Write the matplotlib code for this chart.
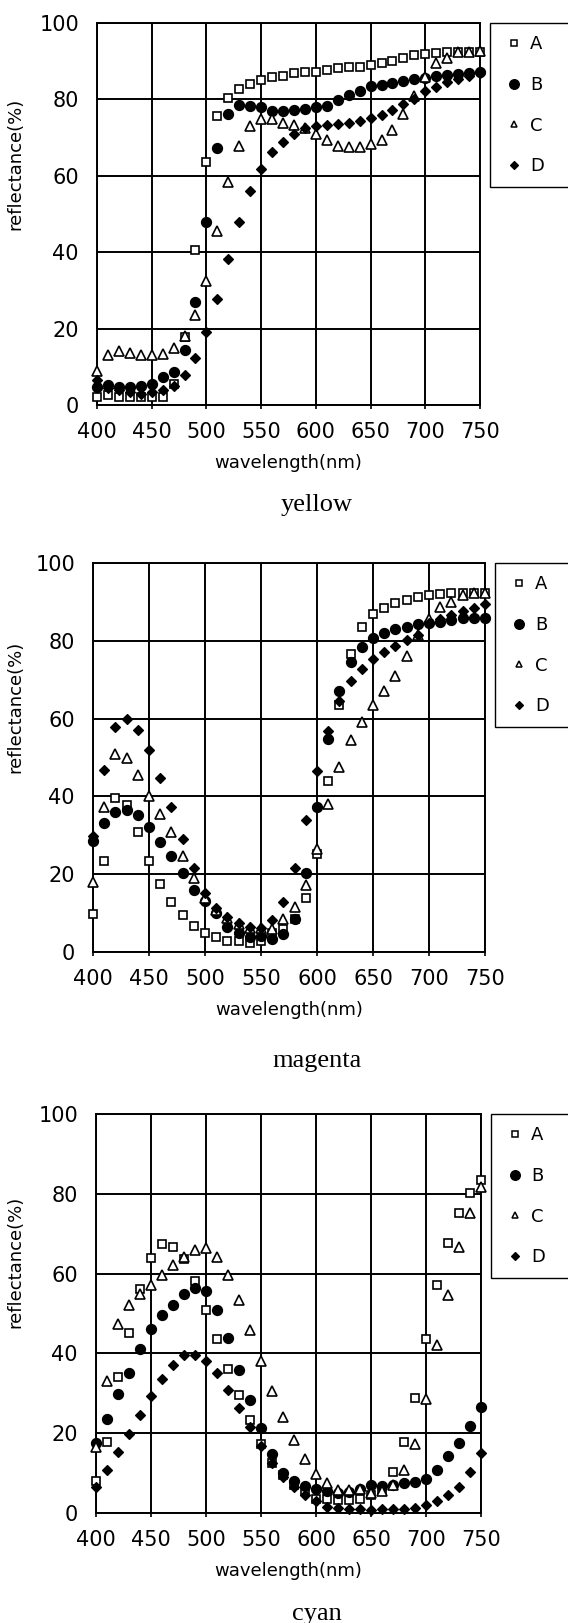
"""
Reflectance spectra of yellow, magenta and cyan samples A-D.
"""
import matplotlib.pyplot as plt
from matplotlib.lines import Line2D

W, H = 568, 1623
DPI = 100

wavelength = list(range(400, 751, 10))
sample_names = ['A', 'B', 'C', 'D']

yellow_A = [2.2, 2.6, 2.2, 2.0, 2.0, 2.0, 2.2, 5.4, 17.9, 40.7, 63.6, 75.6,
            80.3, 82.6, 84.0, 85.0, 85.8, 86.2, 86.8, 87.3, 87.3, 87.7, 88.1, 88.4,
            88.6, 89.1, 89.5, 90.1, 90.9, 91.5, 92.0, 92.2, 92.4, 92.4, 92.4, 92.4]
yellow_B = [4.6, 5.2, 4.6, 4.6, 5.0, 5.5, 7.2, 8.7, 14.5, 27.0, 47.9, 67.3,
            76.1, 78.5, 78.4, 78.0, 77.0, 77.0, 77.2, 77.6, 77.9, 78.4, 79.8, 81.1,
            82.2, 83.4, 83.9, 84.3, 84.7, 85.3, 85.6, 86.1, 86.3, 86.7, 86.8, 87.2]
yellow_C = [8.8, 13.2, 14.2, 13.6, 13.2, 13.0, 13.4, 14.8, 18.0, 23.5, 32.5, 45.6,
            58.4, 67.8, 73.1, 75.0, 75.0, 73.9, 73.2, 72.4, 70.9, 69.5, 67.8, 67.6,
            67.6, 68.3, 69.5, 71.9, 76.3, 81.0, 85.9, 89.4, 90.9, 92.4, 92.4, 92.7]
yellow_D = [6.5, 4.5, 3.9, 3.5, 3.0, 3.5, 3.9, 5.0, 7.9, 12.2, 19.0, 27.7,
            38.1, 47.9, 56.0, 61.9, 66.1, 68.9, 70.9, 72.4, 73.1, 73.2, 73.5, 73.8,
            74.4, 75.2, 76.0, 77.3, 78.9, 80.2, 82.2, 83.3, 84.6, 85.3, 86.0, 86.9]

magenta_A = [9.7, 23.4, 39.6, 37.9, 30.8, 23.4, 17.4, 12.9, 9.4, 6.6, 5.0, 3.8,
             2.9, 2.9, 2.3, 2.7, 5.0, 6.0, 8.5, 14.0, 25.2, 43.9, 63.4, 76.7,
             83.6, 86.8, 88.5, 89.6, 90.5, 91.3, 91.7, 92.0, 92.2, 92.2, 92.4, 92.4]
magenta_B = [28.6, 33.2, 35.9, 36.4, 35.1, 32.2, 28.2, 24.7, 20.2, 15.9, 13.0, 10.0,
             6.5, 4.8, 3.8, 4.0, 3.3, 4.6, 8.5, 20.3, 37.4, 54.7, 67.2, 74.6,
             78.4, 80.8, 82.0, 83.1, 83.6, 84.2, 84.5, 84.9, 85.3, 85.8, 85.8, 85.8]
magenta_C = [18.1, 37.4, 50.9, 50.0, 45.6, 40.2, 35.5, 30.8, 24.7, 19.0, 14.0, 10.8,
             8.8, 7.1, 6.2, 6.2, 5.8, 8.5, 11.5, 17.3, 26.5, 38.1, 47.6, 54.5,
             59.2, 63.4, 67.2, 70.9, 76.0, 81.6, 85.5, 88.8, 90.1, 91.8, 92.2, 92.2]
magenta_D = [29.7, 46.9, 57.9, 59.8, 57.1, 51.9, 44.7, 37.4, 29.1, 21.7, 15.2, 11.2,
             9.0, 7.5, 6.4, 6.2, 8.2, 12.9, 21.7, 34.0, 46.6, 56.9, 64.4, 69.6,
             72.8, 75.2, 77.1, 78.6, 80.2, 81.6, 84.5, 85.5, 86.7, 87.7, 88.5, 89.5]

cyan_A = [7.9, 17.9, 34.2, 45.2, 56.2, 63.8, 67.3, 66.7, 63.6, 58.2, 51.0, 43.5,
          36.0, 29.5, 23.3, 17.2, 12.5, 9.5, 7.0, 5.5, 3.6, 3.4, 3.2, 3.2,
          3.4, 4.4, 5.5, 10.2, 17.9, 28.9, 43.5, 57.2, 67.7, 75.3, 80.1, 83.4]
cyan_B = [17.5, 23.6, 29.9, 35.1, 41.2, 46.2, 49.5, 52.2, 55.0, 56.5, 55.6, 51.0,
          43.9, 35.9, 28.4, 21.3, 14.7, 10.0, 7.9, 6.7, 5.9, 5.5, 5.0, 5.2,
          5.9, 6.9, 6.7, 7.1, 7.5, 7.7, 8.5, 10.7, 14.3, 17.6, 21.7, 26.5]
cyan_C = [16.5, 33.2, 47.4, 52.2, 55.0, 57.1, 59.7, 62.1, 64.2, 65.9, 66.3, 64.2,
          59.6, 53.5, 45.8, 38.2, 30.5, 24.0, 18.2, 13.6, 9.8, 7.4, 5.7, 5.7,
          6.0, 5.0, 5.5, 7.1, 10.8, 17.2, 28.6, 42.2, 54.6, 66.7, 75.1, 81.8]
cyan_D = [6.6, 10.7, 15.3, 19.8, 24.6, 29.3, 33.6, 37.0, 39.5, 39.5, 38.1, 35.1,
          30.9, 26.3, 21.5, 16.9, 12.5, 9.0, 6.5, 4.4, 3.0, 1.6, 1.3, 1.1,
          0.9, 0.7, 0.9, 1.1, 1.1, 1.3, 1.9, 3.0, 4.4, 6.5, 10.4, 15.1]

x_ticks = [400, 450, 500, 550, 600, 650, 700, 750]
y_ticks = [0, 20, 40, 60, 80, 100]

panels = [
    ('yellow', [yellow_A, yellow_B, yellow_C, yellow_D]),
    ('magenta', [magenta_A, magenta_B, magenta_C, magenta_D]),
    ('cyan', [cyan_A, cyan_B, cyan_C, cyan_D]),
]

# plot boxes in pixels: left, top, right, bottom; title baseline
boxes = [(97, 23, 480, 405, 511), (93, 563, 485, 952, 1067), (96, 1114, 481, 1513, 1620)]

# marker, size in plot, size in legend, filled
styles = [('s', 6.2, 5.0, False), ('o', 7.2, 7.0, True),
          ('^', 6.5, 4.6, False), ('D', 4.8, 4.0, True)]


def plot_panel(fig, box, name, series):
    left, top, right, bottom, title_y = box
    ax = fig.add_axes([left / W, 1 - bottom / H, (right - left) / W, (bottom - top) / H])

    for values, (marker, ms, _, filled) in zip(series, styles):
        ax.plot(wavelength, values, ls='none', marker=marker, ms=ms,
                mfc='black' if filled else 'white', mec='black',
                mew=0.9 if filled else 1.2, clip_on=False, zorder=3)

    ax.set_xlim(400, 750)
    ax.set_ylim(0, 100)
    ax.set_xticks(x_ticks)
    ax.set_yticks(y_ticks)
    ax.grid(True, color='black', linewidth=1.4)
    ax.set_axisbelow(True)
    for sp in ax.spines.values():
        sp.set_linewidth(1.4)
        sp.set_color('black')
    ax.tick_params(axis='x', direction='out', length=3, width=1.2, pad=9, labelsize=15)
    ax.tick_params(axis='y', length=0, pad=13, labelsize=15)

    height = bottom - top
    width = right - left
    ax.set_xlabel('wavelength(nm)', fontsize=13)
    ax.xaxis.label.set_va('baseline')
    ax.xaxis.set_label_coords(0.5, -63 / height)
    ax.set_ylabel('reflectance(%)', fontsize=13)
    ax.yaxis.label.set_va('center')
    ax.yaxis.set_label_coords((15 - left) / width, 0.63)

    handles = [Line2D([], [], ls='none', marker=m, ms=lms,
                      mfc='black' if f else 'white', mec='black',
                      mew=0.9 if f else 1.1)
               for m, _, lms, f in styles]
    lx = right + 10
    leg = ax.legend(handles, sample_names, loc='upper left',
                    bbox_to_anchor=(lx / W, 1 - (top + 176) / H, 90 / W, 176 / H),
                    bbox_transform=fig.transFigure, mode='expand', borderaxespad=0,
                    fontsize=13, labelspacing=1.26, borderpad=0.67,
                    handlelength=1.33, handletextpad=0.22,
                    fancybox=False, edgecolor='black', framealpha=1)
    leg.get_frame().set_linewidth(1.0)

    fig.text(317 / W, 1 - title_y / H, name, ha='center', va='baseline',
             fontsize=19, family='Liberation Serif')


fig = plt.figure(figsize=(W / DPI, H / DPI), dpi=DPI)
for box, (name, series) in zip(boxes, panels):
    plot_panel(fig, box, name, series)

fig.savefig('out.png', dpi=DPI)
plt.close(fig)
